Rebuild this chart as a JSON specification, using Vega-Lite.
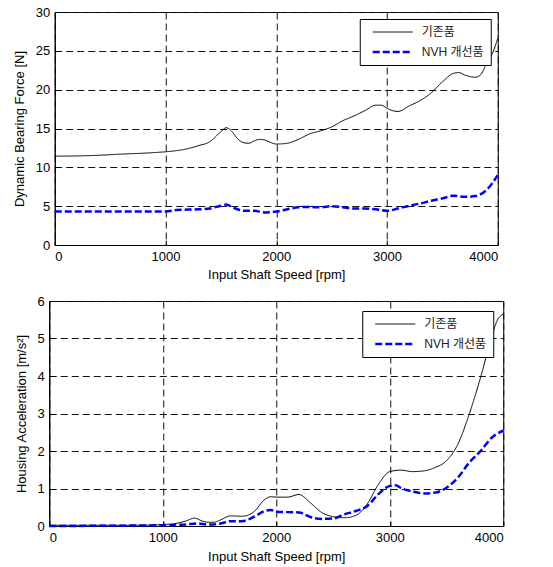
{
  "$schema": "https://vega.github.io/schema/vega-lite/v6.json",
  "padding": {"left": 12, "top": 5, "right": 5, "bottom": 2},
  "background": "white",
  "spacing": 12,
  "center": true,
  "datasets": {
    "force": [
      {"rpm": 0, "value": 11.44, "series": "기존품"},
      {"rpm": 300, "value": 11.5, "series": "기존품"},
      {"rpm": 600, "value": 11.7, "series": "기존품"},
      {"rpm": 900, "value": 11.9, "series": "기존품"},
      {"rpm": 1000, "value": 12.0, "series": "기존품"},
      {"rpm": 1200, "value": 12.4, "series": "기존품"},
      {"rpm": 1300, "value": 12.8, "series": "기존품"},
      {"rpm": 1400, "value": 13.3, "series": "기존품"},
      {"rpm": 1450, "value": 13.9, "series": "기존품"},
      {"rpm": 1500, "value": 14.6, "series": "기존품"},
      {"rpm": 1550, "value": 15.1, "series": "기존품"},
      {"rpm": 1600, "value": 14.6, "series": "기존품"},
      {"rpm": 1650, "value": 13.7, "series": "기존품"},
      {"rpm": 1700, "value": 13.2, "series": "기존품"},
      {"rpm": 1750, "value": 13.1, "series": "기존품"},
      {"rpm": 1800, "value": 13.4, "series": "기존품"},
      {"rpm": 1850, "value": 13.6, "series": "기존품"},
      {"rpm": 1900, "value": 13.5, "series": "기존품"},
      {"rpm": 1950, "value": 13.2, "series": "기존품"},
      {"rpm": 2000, "value": 13.0, "series": "기존품"},
      {"rpm": 2100, "value": 13.1, "series": "기존품"},
      {"rpm": 2200, "value": 13.6, "series": "기존품"},
      {"rpm": 2300, "value": 14.3, "series": "기존품"},
      {"rpm": 2400, "value": 14.7, "series": "기존품"},
      {"rpm": 2500, "value": 15.2, "series": "기존품"},
      {"rpm": 2600, "value": 16.0, "series": "기존품"},
      {"rpm": 2700, "value": 16.6, "series": "기존품"},
      {"rpm": 2800, "value": 17.3, "series": "기존품"},
      {"rpm": 2900, "value": 18.0, "series": "기존품"},
      {"rpm": 2950, "value": 18.0, "series": "기존품"},
      {"rpm": 3000, "value": 17.6, "series": "기존품"},
      {"rpm": 3050, "value": 17.3, "series": "기존품"},
      {"rpm": 3100, "value": 17.2, "series": "기존품"},
      {"rpm": 3200, "value": 17.9, "series": "기존품"},
      {"rpm": 3300, "value": 18.6, "series": "기존품"},
      {"rpm": 3400, "value": 19.6, "series": "기존품"},
      {"rpm": 3500, "value": 21.0, "series": "기존품"},
      {"rpm": 3600, "value": 22.1, "series": "기존품"},
      {"rpm": 3650, "value": 22.2, "series": "기존품"},
      {"rpm": 3700, "value": 21.9, "series": "기존품"},
      {"rpm": 3800, "value": 21.6, "series": "기존품"},
      {"rpm": 3850, "value": 22.0, "series": "기존품"},
      {"rpm": 3900, "value": 23.4, "series": "기존품"},
      {"rpm": 3950, "value": 24.6, "series": "기존품"},
      {"rpm": 4000, "value": 26.6, "series": "기존품"},
      {"rpm": 0, "value": 4.3, "series": "NVH 개선품"},
      {"rpm": 1000, "value": 4.3, "series": "NVH 개선품"},
      {"rpm": 1100, "value": 4.5, "series": "NVH 개선품"},
      {"rpm": 1300, "value": 4.6, "series": "NVH 개선품"},
      {"rpm": 1400, "value": 4.7, "series": "NVH 개선품"},
      {"rpm": 1500, "value": 5.05, "series": "NVH 개선품"},
      {"rpm": 1550, "value": 5.2, "series": "NVH 개선품"},
      {"rpm": 1600, "value": 4.9, "series": "NVH 개선품"},
      {"rpm": 1650, "value": 4.6, "series": "NVH 개선품"},
      {"rpm": 1700, "value": 4.4, "series": "NVH 개선품"},
      {"rpm": 1800, "value": 4.4, "series": "NVH 개선품"},
      {"rpm": 1900, "value": 4.2, "series": "NVH 개선품"},
      {"rpm": 2000, "value": 4.3, "series": "NVH 개선품"},
      {"rpm": 2100, "value": 4.6, "series": "NVH 개선품"},
      {"rpm": 2200, "value": 4.85, "series": "NVH 개선품"},
      {"rpm": 2300, "value": 4.9, "series": "NVH 개선품"},
      {"rpm": 2400, "value": 4.85, "series": "NVH 개선품"},
      {"rpm": 2500, "value": 5.0, "series": "NVH 개선품"},
      {"rpm": 2600, "value": 4.85, "series": "NVH 개선품"},
      {"rpm": 2700, "value": 4.7, "series": "NVH 개선품"},
      {"rpm": 2800, "value": 4.7, "series": "NVH 개선품"},
      {"rpm": 2900, "value": 4.6, "series": "NVH 개선품"},
      {"rpm": 3000, "value": 4.4, "series": "NVH 개선품"},
      {"rpm": 3100, "value": 4.7, "series": "NVH 개선품"},
      {"rpm": 3200, "value": 5.05, "series": "NVH 개선품"},
      {"rpm": 3300, "value": 5.35, "series": "NVH 개선품"},
      {"rpm": 3400, "value": 5.7, "series": "NVH 개선품"},
      {"rpm": 3500, "value": 6.0, "series": "NVH 개선품"},
      {"rpm": 3600, "value": 6.35, "series": "NVH 개선품"},
      {"rpm": 3700, "value": 6.2, "series": "NVH 개선품"},
      {"rpm": 3800, "value": 6.3, "series": "NVH 개선품"},
      {"rpm": 3900, "value": 7.1, "series": "NVH 개선품"},
      {"rpm": 4000, "value": 9.0, "series": "NVH 개선품"}
    ],
    "accel": [
      {"rpm": 0, "value": 0.02, "series": "기존품"},
      {"rpm": 800, "value": 0.02, "series": "기존품"},
      {"rpm": 1000, "value": 0.04, "series": "기존품"},
      {"rpm": 1100, "value": 0.06, "series": "기존품"},
      {"rpm": 1200, "value": 0.13, "series": "기존품"},
      {"rpm": 1280, "value": 0.21, "series": "기존품"},
      {"rpm": 1350, "value": 0.13, "series": "기존품"},
      {"rpm": 1400, "value": 0.1, "series": "기존품"},
      {"rpm": 1450, "value": 0.1, "series": "기존품"},
      {"rpm": 1500, "value": 0.15, "series": "기존품"},
      {"rpm": 1600, "value": 0.27, "series": "기존품"},
      {"rpm": 1700, "value": 0.26, "series": "기존품"},
      {"rpm": 1800, "value": 0.37, "series": "기존품"},
      {"rpm": 1900, "value": 0.71, "series": "기존품"},
      {"rpm": 1950, "value": 0.78, "series": "기존품"},
      {"rpm": 2000, "value": 0.77, "series": "기존품"},
      {"rpm": 2100, "value": 0.77, "series": "기존품"},
      {"rpm": 2200, "value": 0.84, "series": "기존품"},
      {"rpm": 2300, "value": 0.62, "series": "기존품"},
      {"rpm": 2400, "value": 0.36, "series": "기존품"},
      {"rpm": 2500, "value": 0.25, "series": "기존품"},
      {"rpm": 2600, "value": 0.22, "series": "기존품"},
      {"rpm": 2700, "value": 0.28, "series": "기존품"},
      {"rpm": 2800, "value": 0.58, "series": "기존품"},
      {"rpm": 2900, "value": 1.11, "series": "기존품"},
      {"rpm": 3000, "value": 1.45, "series": "기존품"},
      {"rpm": 3100, "value": 1.49, "series": "기존품"},
      {"rpm": 3200, "value": 1.45, "series": "기존품"},
      {"rpm": 3300, "value": 1.47, "series": "기존품"},
      {"rpm": 3400, "value": 1.56, "series": "기존품"},
      {"rpm": 3500, "value": 1.74, "series": "기존품"},
      {"rpm": 3600, "value": 2.18, "series": "기존품"},
      {"rpm": 3700, "value": 2.98, "series": "기존품"},
      {"rpm": 3800, "value": 3.96, "series": "기존품"},
      {"rpm": 3900, "value": 5.07, "series": "기존품"},
      {"rpm": 3950, "value": 5.5, "series": "기존품"},
      {"rpm": 4000, "value": 5.65, "series": "기존품"},
      {"rpm": 0, "value": 0.0, "series": "NVH 개선품"},
      {"rpm": 1000, "value": 0.02, "series": "NVH 개선품"},
      {"rpm": 1200, "value": 0.04, "series": "NVH 개선품"},
      {"rpm": 1300, "value": 0.07, "series": "NVH 개선품"},
      {"rpm": 1400, "value": 0.04, "series": "NVH 개선품"},
      {"rpm": 1500, "value": 0.06, "series": "NVH 개선품"},
      {"rpm": 1600, "value": 0.13, "series": "NVH 개선품"},
      {"rpm": 1700, "value": 0.13, "series": "NVH 개선품"},
      {"rpm": 1800, "value": 0.24, "series": "NVH 개선품"},
      {"rpm": 1900, "value": 0.4, "series": "NVH 개선품"},
      {"rpm": 1950, "value": 0.43, "series": "NVH 개선품"},
      {"rpm": 2000, "value": 0.38, "series": "NVH 개선품"},
      {"rpm": 2100, "value": 0.37, "series": "NVH 개선품"},
      {"rpm": 2200, "value": 0.36, "series": "NVH 개선품"},
      {"rpm": 2300, "value": 0.24, "series": "NVH 개선품"},
      {"rpm": 2400, "value": 0.19, "series": "NVH 개선품"},
      {"rpm": 2500, "value": 0.2, "series": "NVH 개선품"},
      {"rpm": 2600, "value": 0.31, "series": "NVH 개선품"},
      {"rpm": 2700, "value": 0.4, "series": "NVH 개선품"},
      {"rpm": 2800, "value": 0.53, "series": "NVH 개선품"},
      {"rpm": 2900, "value": 0.85, "series": "NVH 개선품"},
      {"rpm": 3000, "value": 1.07, "series": "NVH 개선품"},
      {"rpm": 3050, "value": 1.09, "series": "NVH 개선품"},
      {"rpm": 3100, "value": 1.01, "series": "NVH 개선품"},
      {"rpm": 3200, "value": 0.92, "series": "NVH 개선품"},
      {"rpm": 3300, "value": 0.87, "series": "NVH 개선품"},
      {"rpm": 3400, "value": 0.89, "series": "NVH 개선품"},
      {"rpm": 3500, "value": 1.02, "series": "NVH 개선품"},
      {"rpm": 3600, "value": 1.29, "series": "NVH 개선품"},
      {"rpm": 3700, "value": 1.69, "series": "NVH 개선품"},
      {"rpm": 3800, "value": 2.0, "series": "NVH 개선품"},
      {"rpm": 3900, "value": 2.36, "series": "NVH 개선품"},
      {"rpm": 4000, "value": 2.54, "series": "NVH 개선품"}
    ]
  },
  "config": {
    "font": "Liberation Sans",
    "view": {"stroke": "black", "strokeWidth": 1},
    "axis": {
      "labelFont": "Liberation Sans",
      "labelFontSize": 13,
      "labelColor": "black",
      "titleFont": "Liberation Sans",
      "titleFontSize": 13,
      "titleFontWeight": "normal",
      "titleColor": "black",
      "domainColor": "black",
      "tickColor": "black",
      "tickSize": -5,
      "gridColor": "#111111",
      "gridOpacity": 1,
      "gridDash": [7, 4],
      "gridWidth": 1,
      "labelPadding": 10,
      "format": "d"
    },
    "legend": {
      "orient": "top-right",
      "offset": 7,
      "strokeColor": "black",
      "fillColor": "white",
      "padding": 7,
      "rowPadding": 8,
      "labelFont": "Liberation Sans, Noto Sans CJK KR",
      "labelFontSize": 12,
      "labelColor": "#222222",
      "labelOffset": 43,
      "symbolType": "M0,0H20",
      "symbolSize": 16,
      "title": null
    }
  },
  "resolve": {"legend": {"color": "independent", "strokeDash": "independent", "strokeWidth": "independent"}},
  "vconcat": [
    {
      "width": 443,
      "height": 233,
      "data": {"name": "force"},
      "mark": {"type": "line", "interpolate": "monotone"},
      "encoding": {
        "x": {"field": "rpm", "type": "quantitative", "scale": {"domain": [0, 4000], "nice": false},
              "axis": {"values": [0, 1000, 2000, 3000, 4000], "title": "Input Shaft Speed [rpm]", "titlePadding": 5}},
        "y": {"field": "value", "type": "quantitative", "scale": {"domain": [0, 30], "nice": false},
              "axis": {"values": [0, 5, 10, 15, 20, 25, 30], "title": "Dynamic Bearing Force [N]", "titlePadding": 9}},
        "color": {"field": "series", "type": "nominal", "scale": {"domain": ["기존품", "NVH 개선품"], "range": ["black", "#0000ff"]}, "legend": {"offset": 7}},
        "strokeDash": {"field": "series", "type": "nominal", "scale": {"domain": ["기존품", "NVH 개선품"], "range": [[1, 0], [7, 3]]}},
        "strokeWidth": {"field": "series", "type": "nominal", "scale": {"domain": ["기존품", "NVH 개선품"], "range": [1, 2.5]}}
      }
    },
    {
      "width": 454,
      "height": 225,
      "data": {"name": "accel"},
      "mark": {"type": "line", "interpolate": "monotone"},
      "encoding": {
        "x": {"field": "rpm", "type": "quantitative", "scale": {"domain": [0, 4000], "nice": false},
              "axis": {"values": [0, 1000, 2000, 3000, 4000], "title": "Input Shaft Speed [rpm]", "titlePadding": 6}},
        "y": {"field": "value", "type": "quantitative", "scale": {"domain": [0, 6], "nice": false},
              "axis": {"values": [0, 1, 2, 3, 4, 5, 6], "title": "Housing Acceleration [m/s²]", "titlePadding": 9}},
        "color": {"field": "series", "type": "nominal", "scale": {"domain": ["기존품", "NVH 개선품"], "range": ["black", "#0000ff"]}, "legend": {"offset": 10}},
        "strokeDash": {"field": "series", "type": "nominal", "scale": {"domain": ["기존품", "NVH 개선품"], "range": [[1, 0], [7, 3]]}},
        "strokeWidth": {"field": "series", "type": "nominal", "scale": {"domain": ["기존품", "NVH 개선품"], "range": [1, 2.5]}}
      }
    }
  ]
}
